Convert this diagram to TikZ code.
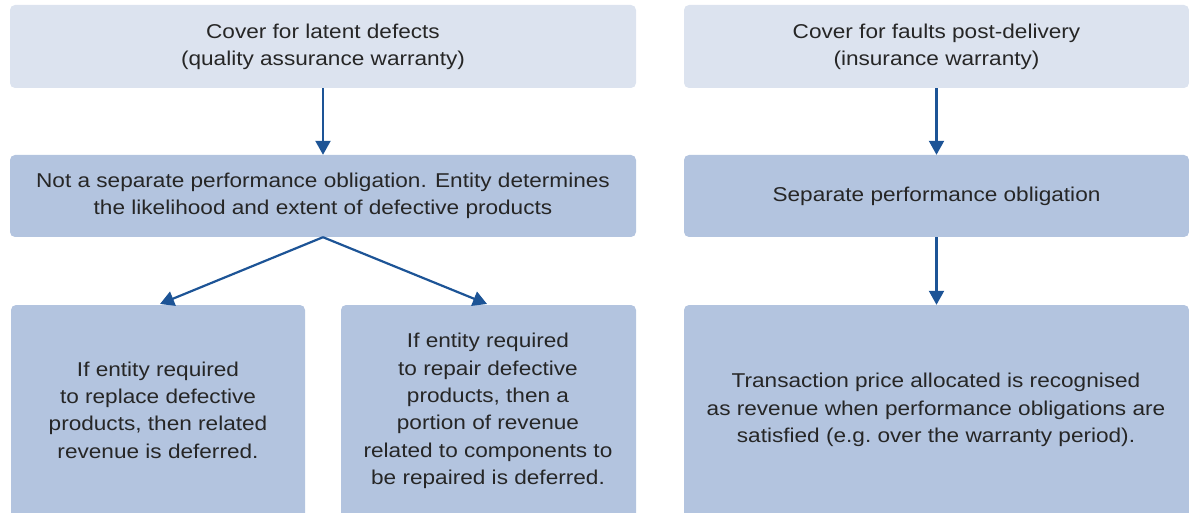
\documentclass[tikz,border=0pt]{standalone}
\usepackage{fontspec}
\setmainfont[FakeStretch=1.13]{Liberation Sans}
\usetikzlibrary{arrows.meta}
\definecolor{lightbox}{HTML}{DCE3EF}
\definecolor{midbox}{HTML}{B3C4DF}
\definecolor{arrowblue}{HTML}{1D5496}
\definecolor{txt}{HTML}{262626}
\tikzset{
  box/.style={rounded corners=5pt, inner sep=0pt, align=center, text=txt,
    font=\fontsize{20}{27.3}\selectfont},
  lbox/.style={box, fill=lightbox},
  mbox/.style={box, fill=midbox},
  conn/.style={draw=arrowblue, line width=2.2pt, -{Triangle[width=15pt,length=14pt]}}
}
\begin{document}
\begin{tikzpicture}[x=1pt,y=-1pt]
\useasboundingbox (0,0) rectangle (1189,513);
\clip (0,0) rectangle (1189,513);
% left column
\node[lbox, minimum width=626pt, minimum height=83pt] (tl) at (323,46.5)
  {Cover for latent defects\\(quality assurance warranty)};
\node[mbox, minimum width=626pt, minimum height=82pt] (ml) at (323,196)
  {Not a separate performance obligation. Entity determines\\the likelihood and extent of defective products};
\node[mbox, minimum width=294pt, minimum height=218pt] (bla) at (158,414)
  {};
\node[box] (blat) at (158,410) {If entity required\\to replace defective\\products, then related\\revenue is deferred.};
\node[mbox, minimum width=295pt, minimum height=218pt] (blb) at (488.5,414)
  {};
\node[box] (blbt) at (488,411) {If entity required\\to repair defective\\products, then a\\portion of revenue\\related to components to\\be repaired is deferred.};
% right column
\node[lbox, minimum width=505pt, minimum height=83pt] (tr) at (936.5,46.5)
  {Cover for faults post-delivery\\(insurance warranty)};
\node[mbox, minimum width=505pt, minimum height=82pt] (mr) at (936.5,196)
  {Separate performance obligation};
\node[mbox, minimum width=505pt, minimum height=218pt] (br) at (936.5,414)
  {};
\node[box] (brt) at (936,410) {Transaction price allocated is recognised\\as revenue when performance obligations are\\satisfied (e.g.\ over the warranty period).};
% connectors
\draw[conn] (tl.south) -- (ml.north);
\coordinate (ea) at (160,304);
\coordinate (eb) at (487,304);
\draw[conn] (ml.south) -- (ea);
\draw[conn] (ml.south) -- (eb);
\draw[conn] (tr.south) -- (mr.north);
\draw[conn] (mr.south) -- (br.north);
\end{tikzpicture}
\end{document}
